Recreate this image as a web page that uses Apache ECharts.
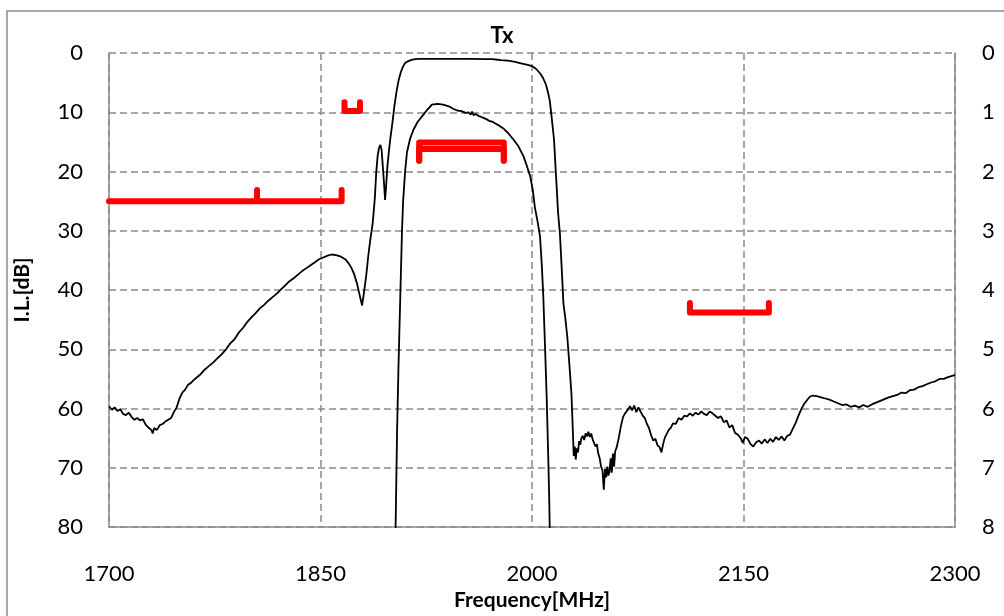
<!DOCTYPE html>
<html>
<head>
<meta charset="utf-8">
<script src="https://cdn.jsdelivr.net/npm/echarts@6/dist/echarts.min.js"></script>
<style>
html,body{margin:0;padding:0;background:#fff;}
#chart{width:1004px;height:616px;}
</style>
</head>
<body>
<div id="chart"></div>
<script>
// ---- Data ----
const xTicks = [1700, 1850, 2000, 2150, 2300];
const leftTicks = [0, 10, 20, 30, 40, 50, 60, 70, 80];
const rightTicks = [0, 1, 2, 3, 4, 5, 6, 7, 8];

// Wideband response (left axis, dB)
const wideFreq = [1700,1702,1704,1706,1708,1710,1712,1714,1716,1718,1720,1722,1724,1726,1728,1730,1731,1732,1734,1736,1738,1740,1742,1744,1746,1748,1750,1752,1754,1756,1758,1760,1762,1765,1768,1771,1774,1777,1780,1783,1786,1789,1792,1795,1798,1801,1804,1807,1810,1813,1816,1819,1822,1825,1828,1831,1834,1837,1840,1843,1846,1849,1852,1855,1858,1861,1864,1866,1868,1870,1872,1874,1876,1877.5,1879.5,1881,1882.5,1884,1885.5,1887,1888.5,1889.5,1890.5,1891.5,1892.5,1893.3,1894,1895,1895.8,1896.5,1897.5,1898.5,1899.5,1901,1902.5,1904,1905.5,1907,1908.5,1910,1912,1914,1917,1920,1925,1940,1955,1968,1972,1973,1974,1978,1983,1988,1993,1997,2000,2003,2006,2008,2010,2011.5,2012.7,2014,2015.6,2017,2018.5,2019.8,2021,2022.3,2023.5,2025,2026.5,2028,2029,2029.6,2030.3,2031,2031.8,2032.6,2033.4,2034.2,2035,2036,2037,2038,2039,2040,2041,2042,2043,2044,2045,2046,2047,2048,2049,2050,2050.9,2051.8,2052.6,2053.4,2054.2,2055,2055.8,2056.6,2057.4,2058.2,2059,2060,2061.5,2063,2064.6,2066,2068,2069.5,2071,2072.5,2074,2075.5,2077,2078.5,2080,2081.5,2083,2084.5,2086,2087.5,2089,2090.5,2091.8,2093,2094.2,2095.5,2097,2098.5,2100,2102,2104,2106,2108,2110,2112,2114,2116,2118,2120,2122,2124,2126,2128,2130,2132,2134,2136,2138,2140,2142,2144,2146,2148,2149.5,2151,2153,2155,2157,2159,2161,2163,2165,2167,2169,2171,2173,2175,2177,2179,2181,2183,2185,2187,2189,2191,2193,2195,2197,2199,2202,2205,2208,2211,2214,2217,2220,2223,2226,2229,2232,2235,2238,2241,2244,2247,2250,2253,2256,2259,2262,2265,2268,2271,2274,2277,2280,2283,2286,2289,2292,2295,2298,2300];
const wideLoss = [59.6,60.2,59.8,60.4,60.1,60.9,61.1,60.7,61.4,61.9,61.6,62.0,61.8,62.7,63.2,63.6,64.2,63.3,63.6,62.8,62.6,62.2,61.9,61.6,60.6,59.8,58.3,57.3,56.8,56.0,55.7,55.2,54.8,54.2,53.4,52.8,52.2,51.5,50.8,50.0,49.0,48.3,47.2,46.4,45.4,44.6,43.9,43.1,42.5,41.8,41.2,40.6,39.9,39.2,38.5,38.0,37.4,36.8,36.3,35.8,35.3,34.8,34.5,34.2,34.0,34.1,34.3,34.6,34.9,35.5,36.3,37.4,39.0,40.6,42.6,40.2,37.4,34.0,31.2,28.8,24.6,20.3,17.4,16.0,15.5,16.3,18.5,21.8,24.8,22.6,19.0,16.6,14.5,11.8,8.8,6.4,4.5,3.2,2.3,1.7,1.4,1.2,1.05,1.0,1.0,0.98,1.0,1.02,1.05,0.9,1.1,1.2,1.3,1.5,1.8,2.0,2.2,2.7,3.5,4.3,5.4,6.8,8.2,11.0,14.6,20.5,27.0,30.5,36.0,42.3,44.5,47.8,52.5,57.6,64.0,68.0,66.4,68.6,66.7,67.4,65.5,66.1,65.0,64.6,65.3,64.2,64.7,63.9,64.8,64.2,65.2,64.9,66.4,66.0,67.6,68.4,69.8,70.4,73.7,70.2,71.6,69.8,71.3,70.6,68.4,70.8,67.6,69.8,67.2,66.6,65.0,63.0,61.4,60.8,60.2,59.6,60.3,59.5,60.6,59.8,60.5,61.2,61.6,62.6,63.3,64.5,65.4,65.1,66.2,66.5,67.4,66.0,64.9,64.3,63.6,63.2,62.5,62.6,61.6,61.9,61.2,61.3,60.8,61.2,60.7,61.0,60.5,60.9,61.1,60.5,60.8,61.2,61.6,61.3,62.3,62.0,63.2,62.8,64.1,64.4,65.0,65.8,64.8,65.1,66.0,66.4,65.7,65.4,65.9,65.2,65.8,65.1,65.6,64.8,65.3,64.7,65.4,64.6,64.4,63.4,62.4,61.2,60.1,59.2,58.6,58.0,57.8,57.9,58.1,58.3,58.5,58.8,59.1,59.4,59.3,59.7,59.5,59.8,59.4,59.7,59.3,59.0,58.7,58.4,58.1,57.9,57.7,57.3,57.4,56.9,56.8,56.4,56.2,55.9,55.6,55.4,55.0,55.0,54.7,54.5,54.3];

// Passband detail (right axis, dB)
const passFreq = [1902.8,1903.4,1904.3,1905.3,1906.6,1907.8,1908.6,1910,1911.3,1913.5,1916,1919,1923,1926,1929,1933,1937,1941,1944,1947,1950,1953,1955,1956.5,1957.5,1958.5,1960,1962,1964,1966,1968,1970,1972,1974,1977,1980,1983,1986.8,1990,1993.9,1996,1998.6,2000.5,2002,2004,2005.7,2007,2008,2009.3,2010.4,2011.5,2012.2,2013];
const passLoss = [8.6,7.8,6.4,5.3,4.1,3.0,2.5,2.0,1.68,1.45,1.29,1.16,1.04,0.95,0.87,0.86,0.87,0.90,0.94,0.97,0.98,1.01,1.0,1.04,0.99,1.05,1.03,1.06,1.08,1.1,1.12,1.15,1.16,1.19,1.23,1.28,1.35,1.46,1.56,1.74,1.88,2.07,2.3,2.6,2.85,3.1,3.6,4.1,5.0,5.8,6.8,7.5,8.6];

// Specification marks (left axis, dB)
const specLowFreq = [1700, 1805, 1805, 1805, 1865, 1865];
const specLowLoss = [25, 25, 23.1, 25, 25, 23.1];
const specNotchFreq = [1867, 1867, 1878, 1878];
const specNotchLoss = [8.3, 9.8, 9.8, 8.3];
const specPassFreq = [1920, 1920, 1980, 1980];
const specPassLossA = [18.2, 15.1, 15.1, 18.2];
const specPassLossB = [18.2, 16.2, 16.2, 18.2];
const specRxFreq = [2112, 2112, 2168, 2168];
const specRxLoss = [42.2, 43.8, 43.8, 42.2];

// ---- Chart ----
const zip = (a, b) => a.map((v, i) => [v, b[i]]);
const FONT = 'Lato';
const gridColor = '#8a8a8a';

function specSeries(fr, loss) {
  return {
    type: 'line', yAxisIndex: 0, data: zip(fr, loss), symbol: 'none',
    lineStyle: { color: '#ff0000', width: 6, cap: 'round', join: 'round' },
    z: 3, silent: true
  };
}

const chart = echarts.init(document.getElementById('chart'), null, { renderer: 'canvas' });
chart.setOption({
  animation: false,
  backgroundColor: '#ffffff',
  title: {
    text: 'Tx', left: 'center', top: 20,
    textStyle: { fontFamily: FONT, fontWeight: 'bold', fontSize: 22, color: '#000' }
  },
  grid: { left: 109, right: 49, top: 53, height: 478 },
  graphic: [{
    type: 'rect', shape: { x: 7, y: 11, width: 1100, height: 700 },
    style: { fill: 'none', stroke: '#8c8c8c', lineWidth: 1.5 }, silent: true
  }],
  xAxis: {
    type: 'value', min: xTicks[0], max: xTicks[xTicks.length - 1], interval: 150,
    name: 'Frequency[MHz]', nameLocation: 'middle', nameGap: 62,
    nameTextStyle: { fontFamily: FONT, fontWeight: 'bold', fontSize: 21, color: '#000' },
    axisLine: { onZero: false, lineStyle: { color: gridColor, width: 1.5 } },
    axisTick: { show: false },
    axisLabel: { fontFamily: FONT, fontSize: 22, color: '#000', margin: 36, formatter: v => String(v) },
    splitLine: { show: true, lineStyle: { color: gridColor, width: 1.5, type: [7, 4] } }
  },
  yAxis: [{
    type: 'value', min: leftTicks[0], max: leftTicks[leftTicks.length - 1], interval: 10, inverse: true,
    name: 'I.L.[dB]', nameLocation: 'middle', nameGap: 76, nameRotate: 90,
    nameTextStyle: { fontFamily: FONT, fontWeight: 'bold', fontSize: 21, color: '#000' },
    axisLine: { show: true, onZero: false, lineStyle: { color: gridColor, width: 1.5 } },
    axisTick: { show: false },
    axisLabel: { fontFamily: FONT, fontSize: 22, color: '#000', margin: 26, formatter: v => String(v) },
    splitLine: { show: true, lineStyle: { color: gridColor, width: 1.5, type: [7, 4] } }
  }, {
    type: 'value', min: rightTicks[0], max: rightTicks[rightTicks.length - 1], interval: 1, inverse: true,
    position: 'right',
    axisLine: { show: true, onZero: false, lineStyle: { color: gridColor, width: 1.5 } },
    axisTick: { show: false },
    axisLabel: { fontFamily: FONT, fontSize: 22, color: '#000', margin: 27, formatter: v => String(v) },
    splitLine: { show: false }
  }],
  series: [
    {
      type: 'line', yAxisIndex: 0, data: zip(wideFreq, wideLoss), symbol: 'none',
      lineStyle: { color: '#000', width: 1.8 }, z: 4, silent: true
    },
    {
      type: 'line', yAxisIndex: 1, data: zip(passFreq, passLoss), symbol: 'none',
      lineStyle: { color: '#000', width: 1.8 }, z: 4, silent: true
    },
    specSeries(specLowFreq, specLowLoss),
    specSeries(specNotchFreq, specNotchLoss),
    specSeries(specPassFreq, specPassLossA),
    specSeries(specPassFreq, specPassLossB),
    specSeries(specRxFreq, specRxLoss)
  ]
});
</script>
</body>
</html>
